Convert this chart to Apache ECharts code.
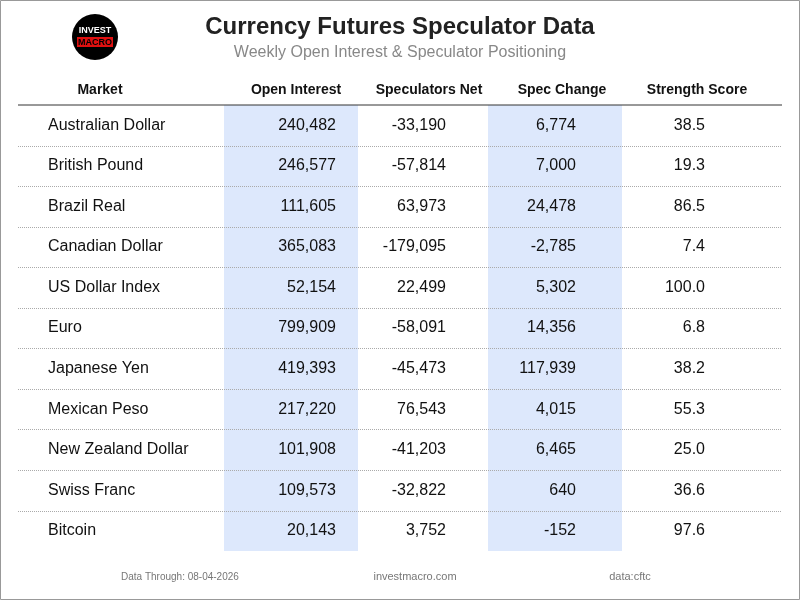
<!DOCTYPE html>
<html lang="en">
<head>
<meta charset="UTF-8">
<title>Currency Futures Speculator Data</title>
<script src="https://cdn.jsdelivr.net/npm/echarts@6/dist/echarts.min.js"></script>
<style>
  html, body { margin: 0; padding: 0; background: #fff; }
  #chart { width: 800px; height: 600px; }
</style>
</head>
<body>
<div id="chart"></div>
<script>
    var markets = ['Australian Dollar', 'British Pound', 'Brazil Real', 'Canadian Dollar', 'US Dollar Index',
        'Euro', 'Japanese Yen', 'Mexican Peso', 'New Zealand Dollar', 'Swiss Franc', 'Bitcoin'];
    var openInterest = [240482, 246577, 111605, 365083, 52154, 799909, 419393, 217220, 101908, 109573, 20143];
    var specNet = [-33190, -57814, 63973, -179095, 22499, -58091, -45473, 76543, -41203, -32822, 3752];
    var specChange = [6774, 7000, 24478, -2785, 5302, 14356, 117939, 4015, 6465, 640, -152];
    var strength = [38.5, 19.3, 86.5, 7.4, 100.0, 6.8, 38.2, 55.3, 25.0, 36.6, 97.6];
    var headers = ['Market', 'Open Interest', 'Speculators Net', 'Spec Change', 'Strength Score'];

    var chart = echarts.init(document.getElementById('chart'));
    var fmt = function (v) { return v.toLocaleString('en-US'); };

    var top0 = 105, rowH = 40.55, n = markets.length;
    var bottom = top0 + rowH * n;
    var g = [];

    // outer border
    g.push({ type: 'rect', shape: { x: 0.5, y: 0.5, width: 799, height: 599 },
        style: { fill: 'none', stroke: '#999', lineWidth: 1 } });

    // shaded columns
    [[224, 134], [488, 134]].forEach(function (c) {
        g.push({ type: 'rect', shape: { x: c[0], y: top0, width: c[1], height: bottom - top0 },
            style: { fill: '#dde8fc' } });
    });

    // logo
    g.push({ type: 'circle', shape: { cx: 95, cy: 37, r: 23 }, style: { fill: '#000' } });
    g.push({ type: 'text', x: 95, y: 31, style: { text: 'INVEST', fill: '#fff', font: 'bold 9px Arial',
        align: 'center', verticalAlign: 'middle' } });
    g.push({ type: 'rect', shape: { x: 77, y: 37, width: 36, height: 10 }, style: { fill: '#e01010' } });
    g.push({ type: 'text', x: 95, y: 42.5, style: { text: 'MACRO', fill: '#000', font: 'bold 9px Arial',
        align: 'center', verticalAlign: 'middle' } });

    // titles
    g.push({ type: 'text', x: 400, y: 27, style: { text: 'Currency Futures Speculator Data', fill: '#222',
        font: 'bold 24px Arial', align: 'center', verticalAlign: 'middle' } });
    g.push({ type: 'text', x: 400, y: 53, style: { text: 'Weekly Open Interest & Speculator Positioning',
        fill: '#888', font: '16px Arial', align: 'center', verticalAlign: 'middle' } });

    // header
    var headX = [100, 296, 429, 562, 697];
    headers.forEach(function (h, i) {
        g.push({ type: 'text', x: headX[i], y: 90, style: { text: h, fill: '#111', font: 'bold 14px Arial',
            align: 'center', verticalAlign: 'middle' } });
    });
    g.push({ type: 'line', shape: { x1: 18, y1: top0, x2: 782, y2: top0 }, style: { stroke: '#333', lineWidth: 1 } });

    // rows
    var colX = [48, 336, 446, 576, 705];
    for (var i = 0; i < n; i++) {
        var cy = top0 + rowH * (i + 0.5);
        var vals = [markets[i], fmt(openInterest[i]), fmt(specNet[i]), fmt(specChange[i]), strength[i].toFixed(1)];
        vals.forEach(function (v, j) {
            g.push({ type: 'text', x: colX[j], y: cy, style: { text: v, fill: '#111', font: '16px Arial',
                align: j === 0 ? 'left' : 'right', verticalAlign: 'middle' } });
        });
        if (i < n - 1) {
            var ly = Math.round(top0 + rowH * (i + 1)) + 0.5;
            g.push({ type: 'line', shape: { x1: 18, y1: ly, x2: 782, y2: ly },
                style: { stroke: '#aaa', lineWidth: 1, lineDash: [1, 1] } });
        }
    }

    // footer
    g.push({ type: 'text', x: 121, y: 577, style: { text: 'Data Through: 08-04-2026', fill: '#777',
        font: '10px Arial', align: 'left', verticalAlign: 'middle' } });
    g.push({ type: 'text', x: 415, y: 577, style: { text: 'investmacro.com', fill: '#777',
        font: '11px Arial', align: 'center', verticalAlign: 'middle' } });
    g.push({ type: 'text', x: 630, y: 577, style: { text: 'data:cftc', fill: '#777',
        font: '11px Arial', align: 'center', verticalAlign: 'middle' } });

    chart.setOption({ backgroundColor: '#fff', animation: false, graphic: { elements: g } });
</script>
</body>
</html>
